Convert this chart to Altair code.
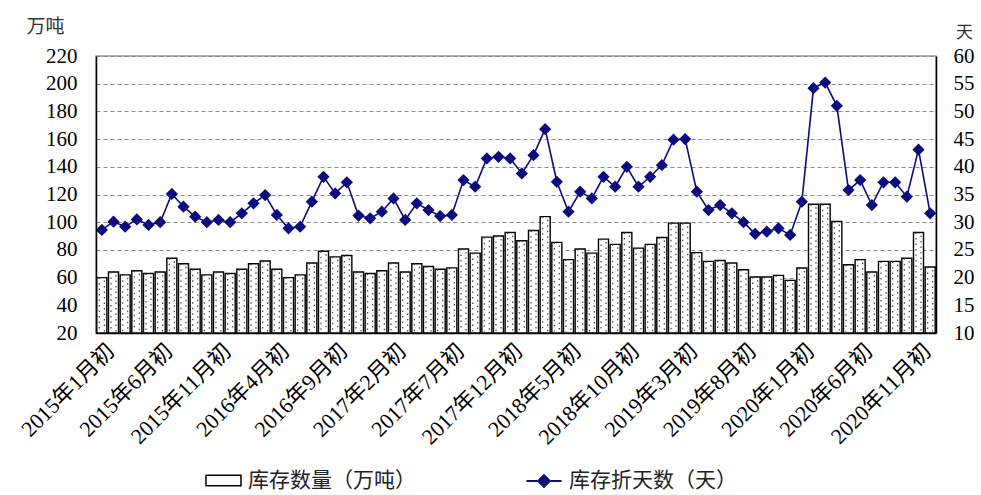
import altair as alt
import pandas as pd

years = [2015, 2016, 2017, 2018, 2019, 2020]
months = [f"{y}年{m}月初" for y in years for m in range(1, 13)]

stock = [60, 64, 62, 65, 63, 64, 74, 70, 66, 62, 64, 63,
         66, 70, 72, 66, 60, 62, 70.5, 79, 75, 76, 64, 63,
         65, 70.5, 64, 70, 68, 66, 67, 80.6, 77.7, 89.2, 90, 92.6,
         86.6, 94, 104, 85.4, 73, 80.6, 77.7, 87.8, 84, 92.6, 81.3, 84,
         89, 99.3, 99.3, 78, 71.7, 72.4, 70.5, 65.7, 60.4, 60.4, 61.6, 58,
         66.9, 113, 113, 100.5, 69.3, 73, 64, 71.7, 71.7, 74, 92.6, 67.6]

days = [28.6, 30.1, 29.2, 30.5, 29.5, 30, 35.1, 32.8, 31, 30, 30.4, 30,
        31.6, 33.4, 34.9, 31.3, 28.9, 29.2, 33.7, 38.2, 35.2, 37.2, 31.2, 30.7,
        31.9, 34.3, 30.4, 33.4, 32.2, 31.1, 31.3, 37.6, 36.4, 41.5, 41.8, 41.5,
        38.8, 42.1, 46.8, 37.3, 31.9, 35.5, 34.3, 38.2, 36.4, 40, 36.4, 38.2,
        40.3, 44.9, 45, 35.5, 32.2, 33.1, 31.6, 30, 27.9, 28.3, 28.9, 27.7,
        33.7, 54.2, 55.2, 51, 35.8, 37.6, 33.1, 37.2, 37.2, 34.6, 43.1, 31.6]

left_ticks = [20, 40, 60, 80, 100, 120, 140, 160, 180, 200, 220]
right_ticks = [10, 15, 20, 25, 30, 35, 40, 45, 50, 55, 60]
label_months = months[::5]

LEG1 = "库存数量（万吨）"
LEG2 = "库存折天数（天）"
NAVY = "#0c0c7e"
NUMFONT = "Liberation Serif, Noto Sans CJK SC"
CJK = "Noto Sans CJK SC"

df = pd.DataFrame({"month": months, "stock": stock, "days": days,
                   "s1": LEG1, "s2": LEG2})

x_axis = alt.Axis(values=label_months, labelAngle=-45, labelAlign="right",
                  labelBaseline="middle", labelFont=NUMFONT, labelFontSize=22,
                  labelColor="black", labelPadding=14, labelOffset=9,
                  ticks=False, domainColor="black", domainWidth=1.5,
                  title=None, labelOverlap=False)
x = alt.X("month:N", sort=months,
          scale=alt.Scale(paddingInner=0.14, paddingOuter=0.07), axis=x_axis)

yl_scale = alt.Scale(domain=[20, 220], nice=False, zero=False)
yr_scale = alt.Scale(domain=[10, 60], nice=False, zero=False)

yl_axis = alt.Axis(values=left_ticks, grid=True, gridDash=[4, 3],
                   gridColor="#8a8a8a", gridWidth=1, ticks=False,
                   domainColor="black", domainWidth=1.5,
                   labelFont=NUMFONT, labelFontSize=21, labelColor="black",
                   labelPadding=19, title="万吨", titleAngle=0,
                   titleX=-51, titleY=-20, titleAlign="center",
                   titleFont=CJK, titleFontSize=19, titleFontWeight="normal",
                   titleColor="#333")
yr_axis = alt.Axis(orient="right", values=right_ticks, grid=False,
                   ticks=False, domainColor="black", domainWidth=1.5,
                   labelFont=NUMFONT, labelFontSize=21, labelColor="black",
                   labelPadding=17, title="天", titleAngle=0,
                   titleX=28, titleY=-15, titleAlign="center",
                   titleFont=CJK, titleFontSize=17, titleFontWeight="normal",
                   titleColor="#333")

bars = alt.Chart(df).mark_bar(stroke="black", strokeWidth=1.4).encode(
    x=x,
    y=alt.Y("stock:Q", scale=yl_scale, axis=yl_axis),
    y2=alt.datum(20),
    fill=alt.Fill("s1:N", scale=alt.Scale(domain=[LEG1], range=["white"]),
                  legend=alt.Legend(orient="none", legendX=115, legendY=412,
                                    title=None, symbolType="M-1.5,-0.45H1.5V0.45H-1.5Z",
                                    symbolSize=544, symbolStrokeColor="black",
                                    symbolStrokeWidth=1.5, labelOffset=12,
                                    labelFont=CJK, labelFontSize=21,
                                    labelColor="#222", labelLimit=400)),
)

dots1 = alt.Chart(df).mark_rule(strokeDash=[1.5, 4], color="#444",
                                strokeWidth=1.2, xOffset=-2.5).encode(
    x=x,
    y=alt.Y("stock:Q", scale=yl_scale, axis=yl_axis),
    y2=alt.datum(21),
)
dots2 = alt.Chart(df).mark_rule(strokeDash=[1.5, 4], strokeDashOffset=2.5,
                                color="#444", strokeWidth=1.2, xOffset=2.5).encode(
    x=x,
    y=alt.Y("stock:Q", scale=yl_scale, axis=yl_axis),
    y2=alt.datum(21),
)

left = alt.layer(bars, dots1, dots2)

line_legend = alt.Legend(orient="none", legendX=435, legendY=412, title=None,
                         symbolType="M-1.5,0H1.5M-0.5,0L0,-0.5L0.5,0L0,0.5Z",
                         symbolSize=544, symbolStrokeColor=NAVY,
                         symbolFillColor=NAVY, symbolStrokeWidth=2,
                         labelOffset=12, labelFont=CJK, labelFontSize=21,
                         labelColor="#222", labelLimit=400)

color = alt.Color("s2:N", scale=alt.Scale(domain=[LEG2], range=[NAVY]),
                  legend=line_legend)

line = alt.Chart(df).mark_line(strokeWidth=1.6).encode(
    x=x,
    y=alt.Y("days:Q", scale=yr_scale, axis=yr_axis),
    color=color,
)
points = alt.Chart(df).mark_point(shape="diamond", filled=True, size=150,
                                  opacity=1).encode(
    x=x,
    y=alt.Y("days:Q", scale=yr_scale, axis=yr_axis),
    color=color,
)
right = alt.layer(line, points)

chart = alt.layer(left, right).resolve_scale(y="independent").properties(
    width=840, height=277,
    autosize=alt.AutoSizeParams(type="none"),
    padding={"left": 96, "top": 56, "right": 45, "bottom": 162},
    background="white",
).configure_view(stroke="#999", strokeWidth=1.5)

chart.save("out.html", embed_options={"renderer": "svg", "actions": False})
